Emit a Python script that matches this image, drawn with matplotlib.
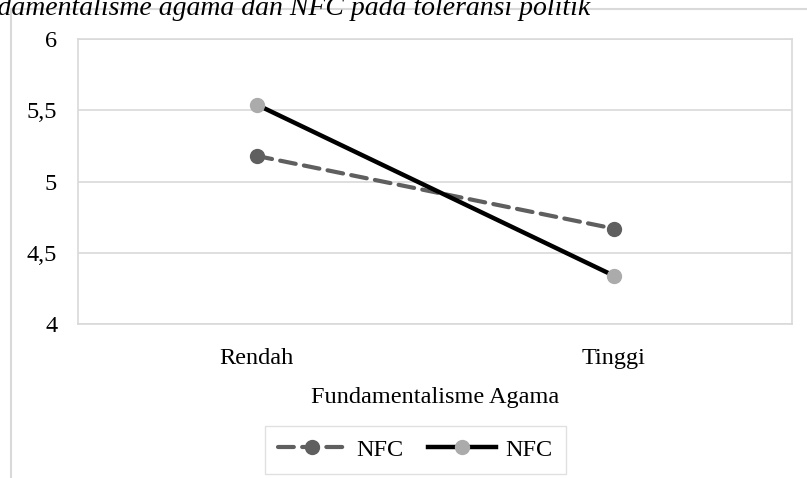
import matplotlib.pyplot as plt
from matplotlib.lines import Line2D

# Data
categories = ["Rendah", "Tinggi"]
nfc_low = [5.18, 4.67]    # dashed series
nfc_high = [5.54, 4.34]   # solid series
y_ticks = [4, 4.5, 5, 5.5, 6]
y_tick_labels = ["4", "4,5", "5", "5,5", "6"]

plt.rcParams["font.family"] = ["Liberation Serif", "DejaVu Serif"]
fs = 17.5

fig = plt.figure(figsize=(8.07, 4.78), dpi=100)
ax = fig.add_axes([78 / 807, 1 - 324 / 478, 714 / 807, 285 / 478])

x = list(range(len(categories)))
ax.plot(x, nfc_low, color="#5f5f5f", lw=3, linestyle=(0, (3.8, 2.0)),
        dash_capstyle="round", marker="o", ms=10, mfc="#5f5f5f", mec="#5f5f5f",
        label="NFC", zorder=3)
ax.plot(x, nfc_high, color="black", lw=3.2, marker="o", ms=10,
        mfc="#ababab", mec="#ababab", label="NFC", zorder=4)

ax.set_xlim(-0.5, 1.5)
ax.set_ylim(4, 6)
ax.set_xticks(x)
ax.set_xticklabels(categories)
ax.set_yticks(y_ticks)
ax.set_yticklabels(y_tick_labels)
ax.tick_params(axis="both", length=0, labelsize=fs)
ax.tick_params(axis="x", pad=17)
ax.tick_params(axis="y", pad=15)
ax.yaxis.grid(True, color="#d9d9d9", lw=1.2)
ax.set_axisbelow(True)
for s in ax.spines.values():
    s.set_color("#d9d9d9")
    s.set_linewidth(1.2)

ax.set_xlabel("Fundamentalisme Agama", fontsize=fs, labelpad=13)

fig.legend(loc="center", bbox_to_anchor=(0.5149, 1 - 450 / 478), ncol=2,
           fontsize=fs, frameon=True, fancybox=False, edgecolor="#d9d9d9",
           handlelength=2.8, columnspacing=1.0, handletextpad=0.4,
           borderpad=0.55, borderaxespad=0)

# outer frame lines (cropped figure border)
fig.add_artist(Line2D([11 / 807, 11 / 807], [0, 1 - 9 / 478], color="#d9d9d9", lw=1.5))
fig.add_artist(Line2D([11 / 807, 1], [1 - 9 / 478, 1 - 9 / 478], color="#d9d9d9", lw=1.5))

# caption at the top, cropped on the left like the reference
fig.text(590 / 807, 1 - 15 / 478, "fundamentalisme agama dan NFC pada toleransi politik",
         ha="right", va="baseline", fontsize=20, style="italic")

fig.savefig("out.png", dpi=100)
